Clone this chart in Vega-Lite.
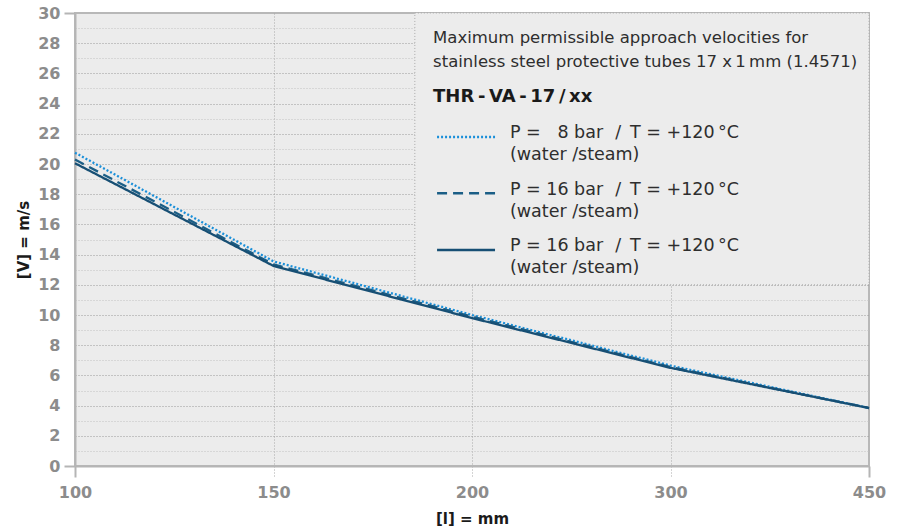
{
  "$schema": "https://vega.github.io/schema/vega-lite/v6.json",
  "width": 794,
  "height": 453,
  "autosize": {"type": "none"},
  "padding": {"left": 75, "top": 13, "right": 33, "bottom": 65},
  "background": "white",
  "config": {
    "view": {"fill": "#ececec", "stroke": "#b8b8b8", "strokeWidth": 2}
  },
  "layer": [
    {
      "data": {"values": [{}]},
      "mark": {"type": "rect", "fill": "#ececec", "stroke": "#a8a8a8", "strokeDash": [1, 2], "strokeWidth": 1},
      "encoding": {
        "x": {"datum": 185.6, "type": "quantitative"},
        "x2": {"datum": 450},
        "y": {"datum": 30, "type": "quantitative"},
        "y2": {"datum": 12}
      }
    },
    {
      "data": {"values": [
        {"l": 100, "v": 20.75, "series": "8 bar"},
        {"l": 150, "v": 13.55, "series": "8 bar"},
        {"l": 200, "v": 10.0, "series": "8 bar"},
        {"l": 300, "v": 6.65, "series": "8 bar"},
        {"l": 450, "v": 3.84, "series": "8 bar"},
        {"l": 100, "v": 20.3, "series": "16 bar a"},
        {"l": 150, "v": 13.35, "series": "16 bar a"},
        {"l": 200, "v": 9.9, "series": "16 bar a"},
        {"l": 300, "v": 6.55, "series": "16 bar a"},
        {"l": 450, "v": 3.84, "series": "16 bar a"},
        {"l": 100, "v": 20.05, "series": "16 bar b"},
        {"l": 150, "v": 13.25, "series": "16 bar b"},
        {"l": 200, "v": 9.8, "series": "16 bar b"},
        {"l": 300, "v": 6.5, "series": "16 bar b"},
        {"l": 450, "v": 3.84, "series": "16 bar b"}
      ]},
      "mark": {"type": "line", "strokeWidth": 2.3},
      "encoding": {
        "x": {
          "field": "l", "type": "quantitative",
          "scale": {"type": "linear", "domain": [100, 150, 200, 300, 450], "range": [0, 198.5, 397, 595.5, 794], "nice": false, "zero": false},
          "axis": {
            "values": [100, 150, 200, 300, 450],
            "tickCount": 40,
            "title": "[l] = mm",
            "labelFont": "DejaVu Sans", "labelFontWeight": "bold", "labelFontSize": 16, "labelColor": "#8c8c8c",
            "labelPadding": 7, "labelFlush": false, "labelOverlap": false,
            "tickSize": 11,
            "tickColor": {"condition": {"test": "datum.value == 100 || datum.value == 450", "value": "#b5b5b5"}, "value": "#a8a8a8"},
            "tickWidth": {"condition": {"test": "datum.value == 100 || datum.value == 450", "value": 2}, "value": 1},
            "tickDash": {"condition": {"test": "datum.value == 100 || datum.value == 450", "value": []}, "value": [1, 2]},
            "domainColor": "#b5b5b5", "domainWidth": 2,
            "grid": true, "gridColor": "#a8a8a8", "gridDash": [1, 2], "gridWidth": 1,
            "gridOpacity": {"condition": {"test": "datum.value == 100 || datum.value == 450", "value": 0}, "value": 1},
            "titleFont": "DejaVu Sans", "titleFontWeight": "bold", "titleFontSize": 15, "titleColor": "#1a1a1a", "titlePadding": 11
          }
        },
        "y": {
          "field": "v", "type": "quantitative",
          "scale": {"domain": [0, 30], "nice": false, "zero": true},
          "axis": {
            "values": [0,1,2,3,4,5,6,7,8,9,10,11,12,13,14,15,16,17,18,19,20,21,22,23,24,25,26,27,28,29,30],
            "tickCount": 40,
            "labelExpr": "datum.value % 2 == 0 ? datum.label : ''",
            "title": "[V] = m/s",
            "labelFont": "DejaVu Sans", "labelFontWeight": "bold", "labelFontSize": 16, "labelColor": "#8c8c8c",
            "labelPadding": 4, "labelOverlap": false, "labelFlush": false,
            "tickSize": 11, "tickColor": "#b5b5b5", "tickWidth": 2,
            "tickOpacity": {"condition": {"test": "datum.value == 0 || datum.value == 30", "value": 1}, "value": 0},
            "domainColor": "#b5b5b5", "domainWidth": 2,
            "grid": true, "gridDash": [1, 2], "gridWidth": 1,
            "gridColor": {"condition": {"test": "datum.value % 2 == 0", "value": "#9a9a9a"}, "value": "#c2c2c2"},
            "gridOpacity": {"condition": {"test": "datum.value == 0 || datum.value == 30", "value": 0}, "value": 1},
            "titleFont": "DejaVu Sans", "titleFontWeight": "bold", "titleFontSize": 15, "titleColor": "#1a1a1a", "titlePadding": 6
          }
        },
        "color": {
          "field": "series", "type": "nominal", "legend": null,
          "scale": {"domain": ["8 bar", "16 bar a", "16 bar b"], "range": ["#1a8fd9", "#1b5e86", "#174f74"]}
        },
        "strokeDash": {
          "field": "series", "type": "nominal", "legend": null,
          "scale": {"domain": ["8 bar", "16 bar a", "16 bar b"], "range": [[2, 2], [10, 6], [1, 0]]}
        }
      }
    },
    {
      "data": {"values": [{}]},
      "mark": {"type": "rule", "color": "#1a8fd9", "strokeWidth": 2.5, "strokeDash": [2, 2]},
      "encoding": {"x": {"datum": 191.2}, "x2": {"datum": 211.6}, "y": {"datum": 21.79}}
    },
    {
      "data": {"values": [{}]},
      "mark": {"type": "rule", "color": "#1b5e86", "strokeWidth": 2.5, "strokeDash": [10, 6]},
      "encoding": {"x": {"datum": 191.2}, "x2": {"datum": 211.6}, "y": {"datum": 18.06}}
    },
    {
      "data": {"values": [{}]},
      "mark": {"type": "rule", "color": "#174f74", "strokeWidth": 2.5},
      "encoding": {"x": {"datum": 191.2}, "x2": {"datum": 211.6}, "y": {"datum": 14.3}}
    },
    {
      "data": {"values": [{}]},
      "mark": {"type": "text", "align": "left", "baseline": "alphabetic", "font": "DejaVu Sans", "fontSize": 17.5, "lineHeight": 22, "color": "#2e2e2e"},
      "encoding": {"x": {"datum": 219.1}, "y": {"datum": 21.72}, "text": {"value": ["P = \u20078 bar\u2002\u2009/\u2002T = +120\u2009°C", "(water /steam)"]}}
    },
    {
      "data": {"values": [{}]},
      "mark": {"type": "text", "align": "left", "baseline": "alphabetic", "font": "DejaVu Sans", "fontSize": 17.5, "lineHeight": 22, "color": "#2e2e2e"},
      "encoding": {"x": {"datum": 219.1}, "y": {"datum": 17.95}, "text": {"value": ["P = 16 bar\u2002\u2009/\u2002T = +120\u2009°C", "(water /steam)"]}}
    },
    {
      "data": {"values": [{}]},
      "mark": {"type": "text", "align": "left", "baseline": "alphabetic", "font": "DejaVu Sans", "fontSize": 17.5, "lineHeight": 22, "color": "#2e2e2e"},
      "encoding": {"x": {"datum": 219.1}, "y": {"datum": 14.24}, "text": {"value": ["P = 16 bar\u2002\u2009/\u2002T = +120\u2009°C", "(water /steam)"]}}
    },
    {
      "data": {"values": [{}]},
      "mark": {"type": "text", "align": "left", "baseline": "alphabetic", "font": "DejaVu Sans", "fontSize": 16.5, "lineHeight": 24, "color": "#2e2e2e"},
      "encoding": {"x": {"datum": 190.2}, "y": {"datum": 28.0}, "text": {"value": ["Maximum permissible approach velocities for", "stainless steel protective tubes 17 x\u20091\u2009mm (1.4571)"]}}
    },
    {
      "data": {"values": [{}]},
      "mark": {"type": "text", "align": "left", "baseline": "alphabetic", "font": "DejaVu Sans", "fontSize": 18, "fontWeight": "bold", "color": "#1a1a1a"},
      "encoding": {"x": {"datum": 190.2}, "y": {"datum": 24.1}, "text": {"value": "THR\u2009-\u2009VA\u2009-\u200917\u2009/\u2009xx"}}
    }
  ]
}
